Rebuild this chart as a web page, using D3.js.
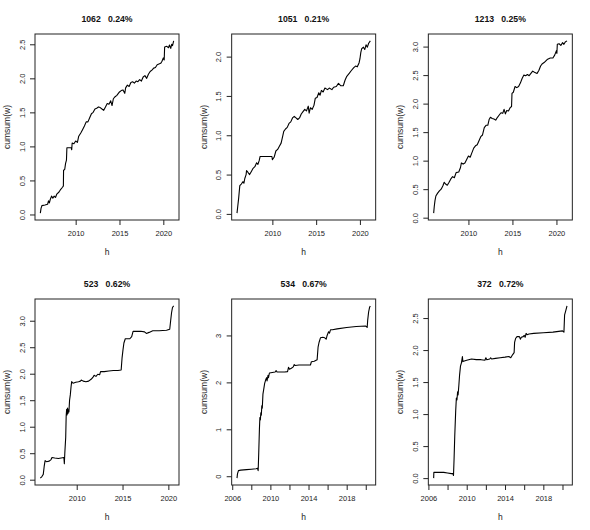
<!DOCTYPE html>
<html>
<head>
<meta charset="utf-8">
<script src="https://cdn.jsdelivr.net/npm/d3@7"></script>
<style>
html,body{margin:0;padding:0;background:#fff;}
svg{display:block;font-family:"Liberation Sans",Arial,sans-serif;}
</style>
</head>
<body>
<svg id="chart" width="590" height="530"></svg>
<script>
// ---- data: [year, cumsum(w)] ----
const titles = ["1062   0.24%", "1051   0.21%", "1213   0.25%", "523   0.62%", "534   0.67%", "372   0.72%"];

const p1062 = [[2005.97,0.02],[2006.05,0.09],[2006.15,0.13],[2006.5,0.14],[2006.8,0.15],[2006.9,0.2],[2007.0,0.17],[2007.1,0.22],[2007.25,0.27],[2007.4,0.24],[2007.55,0.27],[2007.7,0.25],[2007.85,0.3],[2008.1,0.33],[2008.3,0.37],[2008.5,0.4],[2008.6,0.42],[2008.62,0.65],[2008.75,0.66],[2008.85,0.75],[2008.95,0.8],[2009.0,0.98],[2009.5,0.98],[2009.55,0.95],[2009.6,1.05],[2009.8,1.04],[2010.0,1.08],[2010.2,1.06],[2010.35,1.15],[2010.6,1.2],[2010.8,1.25],[2011.0,1.3],[2011.2,1.36],[2011.4,1.36],[2011.6,1.42],[2011.8,1.48],[2012.0,1.5],[2012.2,1.55],[2012.4,1.56],[2012.6,1.58],[2012.8,1.57],[2013.0,1.55],[2013.2,1.53],[2013.4,1.58],[2013.6,1.63],[2013.8,1.62],[2014.0,1.67],[2014.15,1.6],[2014.3,1.7],[2014.5,1.73],[2014.7,1.75],[2015.0,1.8],[2015.2,1.82],[2015.4,1.83],[2015.6,1.78],[2015.7,1.86],[2015.9,1.9],[2016.1,1.88],[2016.3,1.94],[2016.5,1.95],[2016.7,1.93],[2016.9,1.96],[2017.1,1.95],[2017.3,1.98],[2017.5,1.96],[2017.7,2.02],[2017.9,2.04],[2018.1,2.0],[2018.3,2.06],[2018.5,2.1],[2018.7,2.12],[2018.9,2.15],[2019.1,2.16],[2019.3,2.2],[2019.5,2.21],[2019.7,2.22],[2019.85,2.25],[2020.0,2.3],[2020.1,2.27],[2020.15,2.46],[2020.4,2.47],[2020.6,2.45],[2020.7,2.49],[2020.85,2.44],[2020.95,2.5],[2021.05,2.48],[2021.18,2.55]];

const p1051 = [[2005.96,0.01],[2006.05,0.1],[2006.15,0.2],[2006.28,0.36],[2006.45,0.38],[2006.65,0.41],[2006.75,0.39],[2006.85,0.45],[2007.0,0.5],[2007.05,0.55],[2007.2,0.53],[2007.4,0.5],[2007.6,0.54],[2007.8,0.58],[2008.0,0.6],[2008.2,0.65],[2008.35,0.63],[2008.5,0.68],[2008.6,0.73],[2009.95,0.73],[2010.0,0.69],[2010.2,0.72],[2010.4,0.8],[2010.6,0.82],[2010.8,0.86],[2011.0,0.9],[2011.2,1.0],[2011.3,1.05],[2011.5,1.08],[2011.7,1.1],[2011.9,1.15],[2012.1,1.17],[2012.3,1.22],[2012.5,1.24],[2012.7,1.22],[2012.9,1.2],[2013.1,1.22],[2013.3,1.27],[2013.5,1.3],[2013.7,1.33],[2013.9,1.31],[2014.1,1.37],[2014.2,1.28],[2014.35,1.35],[2014.55,1.33],[2014.75,1.38],[2014.9,1.47],[2015.1,1.48],[2015.3,1.54],[2015.45,1.51],[2015.6,1.57],[2015.8,1.55],[2016.0,1.6],[2016.3,1.58],[2016.5,1.6],[2016.8,1.58],[2017.0,1.61],[2017.3,1.62],[2017.55,1.66],[2017.8,1.63],[2018.1,1.63],[2018.3,1.7],[2018.5,1.75],[2018.8,1.79],[2019.0,1.82],[2019.3,1.86],[2019.5,1.88],[2019.7,1.87],[2019.9,1.92],[2020.0,1.97],[2020.1,2.05],[2020.2,2.1],[2020.4,2.12],[2020.55,2.09],[2020.7,2.15],[2020.85,2.12],[2021.0,2.17],[2021.19,2.2]];

const p1213 = [[2006.05,0.08],[2006.12,0.2],[2006.2,0.3],[2006.3,0.38],[2006.5,0.43],[2006.7,0.47],[2006.9,0.5],[2007.1,0.56],[2007.25,0.62],[2007.4,0.59],[2007.6,0.57],[2007.8,0.62],[2008.0,0.68],[2008.2,0.72],[2008.4,0.7],[2008.6,0.79],[2008.9,0.8],[2009.1,0.88],[2009.2,0.96],[2009.4,0.94],[2009.6,0.96],[2009.8,1.02],[2010.0,1.08],[2010.2,1.06],[2010.4,1.14],[2010.6,1.22],[2010.8,1.26],[2011.0,1.28],[2011.2,1.35],[2011.4,1.42],[2011.6,1.45],[2011.8,1.58],[2012.0,1.62],[2012.2,1.62],[2012.35,1.72],[2012.5,1.76],[2012.7,1.74],[2012.9,1.73],[2013.1,1.71],[2013.3,1.76],[2013.5,1.8],[2013.7,1.84],[2013.9,1.83],[2014.05,1.9],[2014.2,1.82],[2014.35,1.88],[2014.55,1.87],[2014.75,1.93],[2014.9,1.95],[2014.95,2.18],[2015.1,2.2],[2015.3,2.3],[2015.5,2.28],[2015.7,2.3],[2015.9,2.36],[2016.1,2.44],[2016.3,2.5],[2016.5,2.49],[2016.7,2.51],[2016.9,2.49],[2017.1,2.53],[2017.3,2.57],[2017.5,2.55],[2017.8,2.53],[2018.0,2.58],[2018.2,2.66],[2018.4,2.7],[2018.6,2.72],[2018.8,2.75],[2019.0,2.78],[2019.3,2.8],[2019.6,2.8],[2019.8,2.85],[2020.0,2.93],[2020.05,2.88],[2020.1,3.04],[2020.3,3.05],[2020.5,3.02],[2020.7,3.07],[2020.85,3.04],[2021.0,3.08],[2021.2,3.1]];

const p523 = [[2006.03,0.03],[2006.2,0.06],[2006.35,0.1],[2006.45,0.25],[2006.55,0.36],[2006.7,0.34],[2007.0,0.35],[2007.2,0.38],[2007.3,0.42],[2007.6,0.41],[2008.0,0.4],[2008.3,0.41],[2008.6,0.42],[2008.65,0.3],[2008.7,0.5],[2008.8,0.8],[2008.85,1.2],[2008.9,1.33],[2008.95,1.22],[2009.0,1.35],[2009.05,1.25],[2009.1,1.32],[2009.15,1.28],[2009.22,1.5],[2009.3,1.6],[2009.38,1.75],[2009.45,1.85],[2009.6,1.82],[2009.9,1.84],[2010.2,1.85],[2010.4,1.86],[2010.5,1.88],[2010.7,1.86],[2011.0,1.85],[2011.3,1.86],[2011.6,1.9],[2011.8,1.94],[2011.9,1.97],[2012.1,1.95],[2012.3,1.99],[2012.5,1.98],[2012.6,2.04],[2013.0,2.04],[2013.5,2.05],[2014.0,2.06],[2014.5,2.06],[2014.85,2.07],[2014.95,2.3],[2015.05,2.45],[2015.15,2.58],[2015.3,2.66],[2015.5,2.66],[2015.8,2.66],[2016.0,2.7],[2016.15,2.8],[2016.3,2.8],[2017.0,2.8],[2017.4,2.79],[2017.6,2.76],[2017.9,2.78],[2018.3,2.81],[2019.0,2.81],[2019.8,2.82],[2020.15,2.84],[2020.25,3.0],[2020.35,3.15],[2020.45,3.25],[2020.58,3.28]];

const p534 = [[2006.5,-0.04],[2006.55,0.05],[2006.65,0.12],[2006.9,0.13],[2007.5,0.14],[2008.0,0.15],[2008.5,0.16],[2008.65,0.17],[2008.72,0.12],[2008.78,0.5],[2008.85,1.0],[2008.9,1.25],[2008.95,1.2],[2009.0,1.35],[2009.05,1.3],[2009.1,1.5],[2009.15,1.45],[2009.22,1.75],[2009.3,1.85],[2009.4,1.98],[2009.5,2.05],[2009.6,2.1],[2009.65,2.03],[2009.75,2.15],[2009.8,2.1],[2009.9,2.2],[2010.2,2.21],[2010.5,2.22],[2010.6,2.25],[2010.7,2.22],[2011.0,2.22],[2011.5,2.22],[2011.8,2.23],[2011.9,2.32],[2012.0,2.28],[2012.2,2.3],[2012.4,2.33],[2012.5,2.38],[2012.6,2.36],[2013.0,2.37],[2013.5,2.37],[2014.2,2.37],[2014.3,2.44],[2014.6,2.45],[2014.9,2.48],[2015.0,2.75],[2015.1,2.85],[2015.25,2.95],[2015.5,2.96],[2015.7,2.95],[2015.85,2.92],[2015.95,3.0],[2016.1,3.08],[2016.2,3.05],[2016.3,3.12],[2016.5,3.12],[2017.0,3.14],[2018.0,3.17],[2019.0,3.19],[2020.0,3.2],[2020.15,3.17],[2020.2,3.32],[2020.3,3.5],[2020.4,3.6],[2020.48,3.63]];

const p372 = [[2006.55,0.0],[2006.57,0.09],[2007.0,0.09],[2007.6,0.09],[2008.0,0.08],[2008.4,0.07],[2008.55,0.07],[2008.62,0.04],[2008.68,0.3],[2008.75,0.65],[2008.85,1.05],[2008.92,1.25],[2008.98,1.22],[2009.05,1.35],[2009.1,1.3],[2009.18,1.45],[2009.25,1.6],[2009.35,1.75],[2009.45,1.8],[2009.55,1.9],[2009.6,1.82],[2009.75,1.83],[2010.0,1.84],[2010.5,1.86],[2011.0,1.85],[2011.5,1.85],[2011.9,1.84],[2012.0,1.88],[2012.1,1.85],[2012.4,1.86],[2012.5,1.88],[2012.6,1.86],[2013.0,1.87],[2013.5,1.88],[2014.0,1.89],[2014.4,1.9],[2014.6,1.88],[2014.8,1.93],[2014.95,1.96],[2015.0,2.12],[2015.1,2.18],[2015.25,2.21],[2015.5,2.21],[2015.6,2.17],[2015.7,2.2],[2015.9,2.21],[2016.0,2.23],[2016.1,2.2],[2016.2,2.26],[2016.3,2.24],[2016.5,2.25],[2017.0,2.26],[2018.0,2.27],[2019.0,2.28],[2020.0,2.3],[2020.15,2.28],[2020.22,2.55],[2020.35,2.62],[2020.47,2.69]];

// ---- tick values and labels ----
const xTicks5 = [2010, 2015, 2020];
const xLabels5 = ["2010", "2015", "2020"];
const xTicks2 = [2006, 2008, 2010, 2012, 2014, 2016, 2018, 2020];
const xLabels2 = ["2006", "", "2010", "", "2014", "", "2018", ""];
const yTicksA = [0, 0.5, 1, 1.5, 2, 2.5];
const yTicksB = [0, 0.5, 1, 1.5, 2];
const yTicksC = [0, 0.5, 1, 1.5, 2, 2.5, 3];
const yTicksD = [0, 1, 2, 3];
const xLabel = "h";
const yLabel = "cumsum(w)";

const panels = [
  {title: titles[0], data: p1062, xt: xTicks5, xl: xLabels5, yt: yTicksA, yf: d3.format(".1f")},
  {title: titles[1], data: p1051, xt: xTicks5, xl: xLabels5, yt: yTicksB, yf: d3.format(".1f")},
  {title: titles[2], data: p1213, xt: xTicks5, xl: xLabels5, yt: yTicksC, yf: d3.format(".1f")},
  {title: titles[3], data: p523,  xt: xTicks5, xl: xLabels5, yt: yTicksC, yf: d3.format(".1f")},
  {title: titles[4], data: p534,  xt: xTicks2, xl: xLabels2, yt: yTicksD, yf: d3.format("d")},
  {title: titles[5], data: p372,  xt: xTicks2, xl: xLabels2, yt: yTicksA, yf: d3.format(".1f")}
];

const W = 590, H = 530, PW = W / 3, PH = H / 2;
const M = {l: 35, r: 179, t: 34, b: 220};
const svg = d3.select("#chart");

function pad(ext) { const p = (ext[1] - ext[0]) * 0.04; return [ext[0] - p, ext[1] + p]; }

panels.forEach((cfg, i) => {
  const col = i % 3, row = Math.floor(i / 3);
  const g = svg.append("g").attr("transform", `translate(${col * PW},${row * PH})`);
  const x = d3.scaleLinear().domain(pad(d3.extent(cfg.data, d => d[0]))).range([M.l, M.r]);
  const y = d3.scaleLinear().domain(pad(d3.extent(cfg.data, d => d[1]))).range([M.b, M.t]);

  g.append("path")
    .datum(cfg.data)
    .attr("d", d3.line().x(d => x(d[0])).y(d => y(d[1])))
    .attr("fill", "none").attr("stroke", "#000").attr("stroke-width", 1.1)
    .attr("stroke-linejoin", "round");

  g.append("rect")
    .attr("x", M.l).attr("y", M.t).attr("width", M.r - M.l).attr("height", M.b - M.t)
    .attr("fill", "none").attr("stroke", "#222").attr("stroke-width", 1);

  const xa = g.append("g").attr("transform", `translate(0,${M.b})`)
    .call(d3.axisBottom(x).tickValues(cfg.xt).tickSize(5).tickPadding(5.5)
      .tickFormat((d, j) => cfg.xl[j]));
  xa.select(".domain").remove();
  xa.selectAll("line").attr("stroke", "#222");
  xa.selectAll("text").attr("font-size", 7.5).attr("fill", "#222").attr("font-family", null);

  const ya = g.append("g").attr("transform", `translate(${M.l},0)`)
    .call(d3.axisLeft(y).tickValues(cfg.yt).tickSize(5).tickFormat(cfg.yf));
  ya.select(".domain").remove();
  ya.selectAll("line").attr("stroke", "#222");
  ya.selectAll("text")
    .attr("x", null).attr("dy", null)
    .attr("text-anchor", "middle").attr("dominant-baseline", "central")
    .attr("transform", "translate(-13,0) rotate(-90)")
    .attr("font-size", 7.5).attr("fill", "#222").attr("font-family", null);

  g.append("text").attr("x", (M.l + M.r) / 2).attr("y", 19)
    .attr("text-anchor", "middle").attr("dominant-baseline", "central")
    .attr("font-weight", "bold").attr("font-size", 8.7).attr("fill", "#111")
    .style("white-space", "pre").text(cfg.title);

  g.append("text").attr("x", (M.l + M.r) / 2).attr("y", 252)
    .attr("text-anchor", "middle").attr("dominant-baseline", "central")
    .attr("font-size", 8.5).attr("fill", "#222").text(xLabel);

  g.append("text").attr("transform", `translate(7,${(M.t + M.b) / 2}) rotate(-90)`)
    .attr("text-anchor", "middle").attr("dominant-baseline", "central")
    .attr("font-size", 8.5).attr("fill", "#222").text(yLabel);
});
</script>
</body>
</html>
